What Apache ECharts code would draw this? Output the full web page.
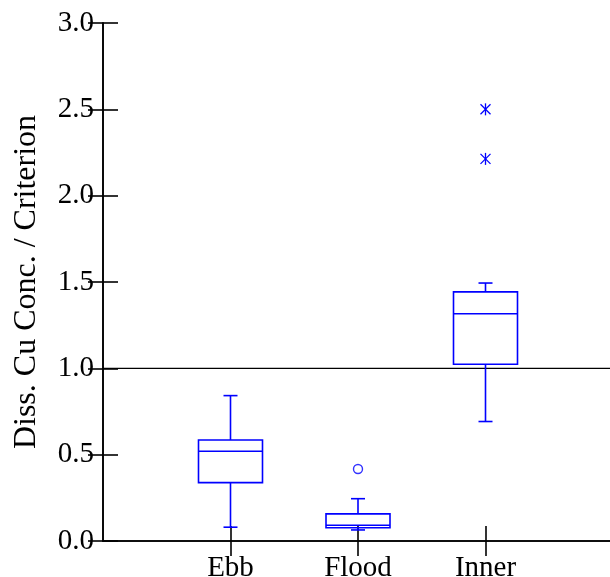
<!DOCTYPE html>
<html>
<head>
<meta charset="utf-8">
<script src="https://cdn.jsdelivr.net/npm/echarts@6/dist/echarts.min.js"></script>
<style>
html,body{margin:0;padding:0;background:#fff;}
#c{width:610px;height:577px;}
</style>
</head>
<body>
<div id="c"></div>
<script>
// ---- data ----
var categories = ['Ebb', 'Flood', 'Inner'];
var catPositions = [1, 2, 3];
// [lowWhisker, Q1, median, Q3, highWhisker]
var ebbBox   = [0.08, 0.338, 0.52, 0.585, 0.842];
var floodBox = [0.064, 0.077, 0.091, 0.157, 0.245];
var innerBox = [0.692, 1.024, 1.316, 1.443, 1.494];
// outliers: [categoryPosition, value]
var circleOutliers = [[2, 0.417]];
var starOutliers = [[3, 2.213], [3, 2.5]];
var yTicks = [0, 0.5, 1.0, 1.5, 2.0, 2.5, 3.0];
var criterionLevel = 1.0;

var boxes = [ebbBox, floodBox, innerBox];
var boxData = boxes.map(function (b, i) { return [catPositions[i]].concat(b); });

var BLUE = '#0000ff';
var FONT = '"Liberation Serif","Times New Roman",serif';
var chart = echarts.init(document.getElementById('c'), null, {renderer: 'canvas'});

function renderBox(params, api) {
  var x = api.value(0);
  var lo = api.coord([x, api.value(1)]);
  var q1 = api.coord([x, api.value(2)]);
  var md = api.coord([x, api.value(3)]);
  var q3 = api.coord([x, api.value(4)]);
  var hi = api.coord([x, api.value(5)]);
  var half = 32, cap = 7;
  var cx = lo[0];
  var st = {stroke: BLUE, lineWidth: 1.6, fill: null};
  return {
    type: 'group',
    children: [
      {type: 'rect', shape: {x: cx - half, y: q3[1], width: 2 * half, height: q1[1] - q3[1]}, style: {stroke: BLUE, lineWidth: 1.6, fill: 'none'}},
      {type: 'line', shape: {x1: cx - half, y1: md[1], x2: cx + half, y2: md[1]}, style: st},
      {type: 'line', shape: {x1: cx, y1: q3[1], x2: cx, y2: hi[1]}, style: st},
      {type: 'line', shape: {x1: cx, y1: q1[1], x2: cx, y2: lo[1]}, style: st},
      {type: 'line', shape: {x1: cx - cap, y1: hi[1], x2: cx + cap, y2: hi[1]}, style: st},
      {type: 'line', shape: {x1: cx - cap, y1: lo[1], x2: cx + cap, y2: lo[1]}, style: st}
    ]
  };
}

function renderStar(params, api) {
  var p = api.coord([api.value(0), api.value(1)]);
  var r = 5;
  var st = {stroke: BLUE, lineWidth: 1.3, fill: null};
  return {
    type: 'group',
    children: [
      {type: 'line', shape: {x1: p[0] - r, y1: p[1] - r, x2: p[0] + r, y2: p[1] + r}, style: st},
      {type: 'line', shape: {x1: p[0] - r, y1: p[1] + r, x2: p[0] + r, y2: p[1] - r}, style: st},
      {type: 'line', shape: {x1: p[0], y1: p[1] - r - 1, x2: p[0], y2: p[1] + r + 1}, style: st}
    ]
  };
}

var axisLine = {show: true, lineStyle: {color: '#000', width: 1.6}};
var tickStyle = {color: '#000', width: 1.6};

var option = {
  animation: false,
  backgroundColor: '#fff',
  grid: {left: 103, top: 23, width: 510, height: 518, containLabel: false, outerBoundsMode: 'none'},
  xAxis: [
    {
      type: 'value', min: 0, max: 4, interval: 1, position: 'bottom',
      axisLine: axisLine,
      axisTick: {show: true, inside: true, length: 15, lineStyle: tickStyle, customValues: catPositions},
      axisLabel: {show: true, customValues: catPositions, margin: 13, color: '#000', fontFamily: FONT, fontSize: 29,
        formatter: function (v) { var i = catPositions.indexOf(v); return i >= 0 ? categories[i] : ''; }},
      splitLine: {show: false}
    },
    {
      type: 'value', min: 0, max: 4, interval: 1, position: 'top',
      axisLine: axisLine,
      axisTick: {show: true, inside: true, length: 15, lineStyle: tickStyle, customValues: catPositions},
      axisLabel: {show: false},
      splitLine: {show: false}
    }
  ],
  yAxis: [
    {
      type: 'value', min: 0, max: 3, interval: 0.5, position: 'left',
      name: 'Diss. Cu Conc. / Criterion', nameLocation: 'middle', nameGap: 60,
      nameTextStyle: {color: '#000', fontFamily: FONT, fontSize: 32},
      axisLine: axisLine,
      axisTick: {show: true, inside: true, length: 15, lineStyle: tickStyle, customValues: yTicks},
      axisLabel: {color: '#000', fontFamily: FONT, fontSize: 29, margin: 9, customValues: yTicks,
        formatter: function (v) { return v.toFixed(1); }},
      splitLine: {show: false}
    },
    {
      type: 'value', min: 0, max: 3, interval: 0.5, position: 'right',
      axisLine: axisLine,
      axisTick: {show: true, inside: true, length: 15, lineStyle: tickStyle, customValues: yTicks},
      axisLabel: {show: false},
      splitLine: {show: false}
    }
  ],
  series: [
    {
      type: 'line', xAxisIndex: 0, yAxisIndex: 0,
      data: [[0, criterionLevel], [4, criterionLevel]],
      symbol: 'none', lineStyle: {color: '#000', width: 1.4}, silent: true, z: 1
    },
    {
      type: 'custom', xAxisIndex: 0, yAxisIndex: 0,
      data: boxData, renderItem: renderBox, z: 3
    },
    {
      type: 'scatter', xAxisIndex: 0, yAxisIndex: 0,
      data: circleOutliers, symbol: 'circle', symbolSize: 9,
      itemStyle: {color: '#fff', borderColor: BLUE, borderWidth: 1.4}, z: 3
    },
    {
      type: 'custom', xAxisIndex: 0, yAxisIndex: 0,
      data: starOutliers, renderItem: renderStar, z: 3
    }
  ]
};
chart.setOption(option);
</script>
</body>
</html>
